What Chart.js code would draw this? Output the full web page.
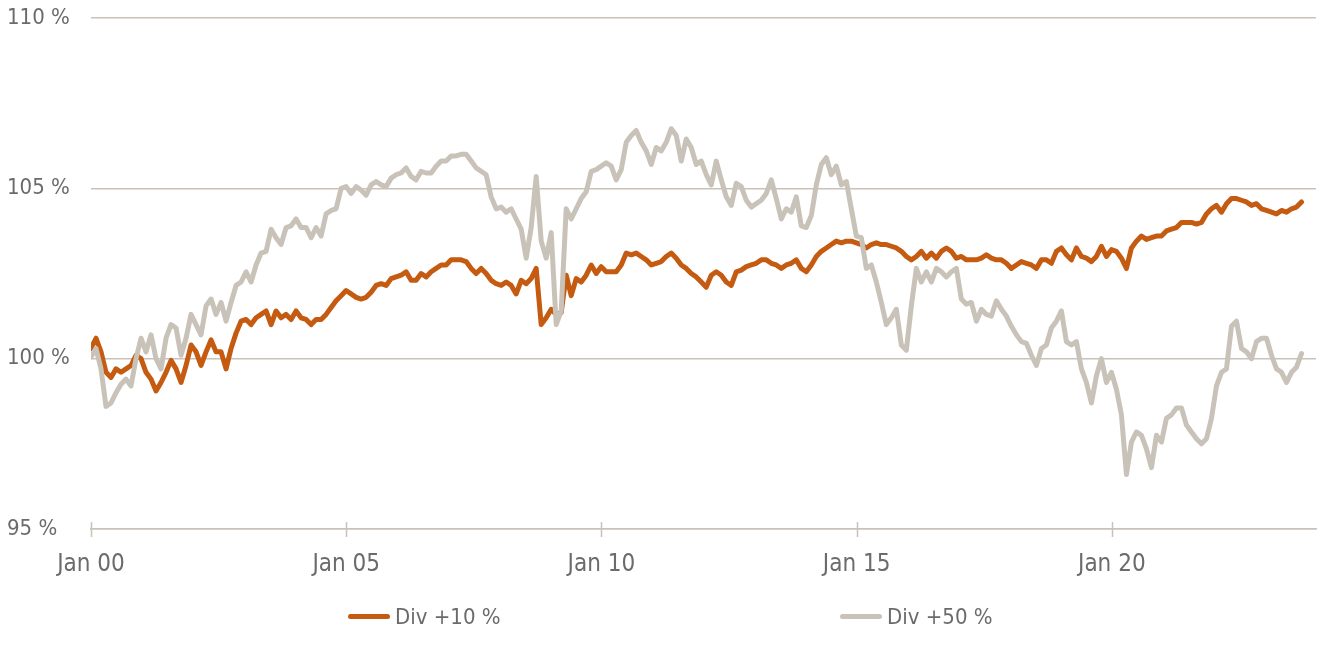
<!DOCTYPE html>
<html>
<head>
<meta charset="utf-8">
<script src="https://cdn.jsdelivr.net/npm/chart.js@4.4.1/dist/chart.umd.min.js"></script>
<style>
  html, body { margin: 0; padding: 0; background: #ffffff; }
  #wrap { position: relative; width: 1335px; height: 646px; overflow: hidden; }
  #c { position: absolute; left: 0; top: 0; }
  .leg { position: absolute; top: 602px; height: 28px; display: flex; align-items: center;
         font-family: "Liberation Sans Narrow", "DejaVu Sans Condensed", "Arial Narrow", sans-serif;
         font-size: 22px; color: #6b6b6b; white-space: nowrap; }
  .leg .sw { display: inline-block; width: 42px; height: 5px; border-radius: 3px; margin-right: 5px; }
</style>
</head>
<body>
<div id="wrap">
  <canvas id="c" width="1335" height="646"></canvas>
  <div id="legend"></div>
</div>
<script>
// ---- data ----
// one sample every ~0.098 year (≈ 1.2 months) starting Jan 2000
const sampleStepYears = 0.098;

const seriesNames = ['Div +10 %', 'Div +50 %'];
const seriesColors = ['#C55A11', '#C9C2B9'];

const div10 = [
  100.3, 100.6, 100.2, 99.6, 99.45, 99.7, 99.6, 99.7, 99.8, 100.1,
  100.0, 99.6, 99.4, 99.05, 99.3, 99.6, 99.95, 99.7, 99.3, 99.8,
  100.4, 100.2, 99.8, 100.2, 100.55, 100.2, 100.2, 99.7, 100.3, 100.75,
  101.1, 101.15, 101.0, 101.2, 101.3, 101.4, 101.0, 101.4, 101.2, 101.3,
  101.15, 101.4, 101.2, 101.15, 101.0, 101.15, 101.15, 101.3, 101.5, 101.7,
  101.85, 102.0, 101.9, 101.8, 101.75, 101.8, 101.95, 102.15, 102.2, 102.15,
  102.35, 102.4, 102.45, 102.55, 102.3, 102.3, 102.5, 102.4, 102.55, 102.65,
  102.75, 102.75, 102.9, 102.9, 102.9, 102.85, 102.65, 102.5, 102.65, 102.5,
  102.3, 102.2, 102.15, 102.25, 102.15, 101.9, 102.3, 102.2, 102.35, 102.65,
  101.0, 101.2, 101.45, 101.3, 101.35, 102.45, 101.85, 102.35, 102.25, 102.45,
  102.75, 102.5, 102.7, 102.55, 102.55, 102.55, 102.75, 103.1, 103.05, 103.1,
  103.0, 102.9, 102.75, 102.8, 102.85, 103.0, 103.1, 102.95, 102.75, 102.65,
  102.5, 102.4, 102.25, 102.1, 102.45, 102.55, 102.45, 102.25, 102.15, 102.55,
  102.6, 102.7, 102.75, 102.8, 102.9, 102.9, 102.8, 102.75, 102.65, 102.75,
  102.8, 102.9, 102.65, 102.55, 102.75, 103.0, 103.15, 103.25, 103.35, 103.45,
  103.4, 103.45, 103.45, 103.4, 103.35, 103.25, 103.35, 103.4, 103.35, 103.35,
  103.3, 103.25, 103.15, 103.0, 102.9, 103.0, 103.15, 102.95, 103.1, 102.95,
  103.15, 103.25, 103.15, 102.95, 103.0, 102.9, 102.9, 102.9, 102.95, 103.05,
  102.95, 102.9, 102.9, 102.8, 102.65, 102.75, 102.85, 102.8, 102.75, 102.65,
  102.9, 102.9, 102.8, 103.15, 103.25, 103.05, 102.9, 103.25, 103.0, 102.95,
  102.85, 103.0, 103.3, 103.0, 103.2, 103.15, 102.95, 102.65, 103.25, 103.45,
  103.6, 103.5, 103.55, 103.6, 103.6, 103.75, 103.8, 103.85, 104.0, 104.0,
  104.0, 103.95, 104.0, 104.25, 104.4, 104.5, 104.3, 104.55, 104.7, 104.7,
  104.65, 104.6, 104.5, 104.55, 104.4, 104.35, 104.3, 104.25, 104.35, 104.3,
  104.4, 104.45, 104.6
];

const div50 = [
  100.05, 100.3, 99.7, 98.6, 98.7, 99.0, 99.25, 99.4, 99.2, 100.0,
  100.6, 100.2, 100.7, 100.0, 99.7, 100.6, 101.0, 100.9, 100.1, 100.6,
  101.3, 101.0, 100.7, 101.55, 101.75, 101.3, 101.65, 101.1, 101.65, 102.15,
  102.25, 102.55, 102.25, 102.75, 103.1, 103.15, 103.8, 103.55, 103.35, 103.85,
  103.9, 104.1, 103.85, 103.85, 103.55, 103.85, 103.6, 104.25, 104.35, 104.4,
  105.0, 105.05, 104.85, 105.05, 104.95, 104.8, 105.1, 105.2, 105.1, 105.05,
  105.3, 105.4, 105.45, 105.6, 105.35, 105.25, 105.5, 105.45, 105.45, 105.65,
  105.8, 105.8, 105.95, 105.95, 106.0, 106.0, 105.8, 105.6, 105.5, 105.4,
  104.75, 104.4, 104.45, 104.3, 104.4, 104.1, 103.8, 102.95, 103.85, 105.35,
  103.45, 102.95, 103.7, 101.0, 101.4, 104.4, 104.1, 104.4, 104.7, 104.9,
  105.5, 105.55, 105.65, 105.75, 105.65, 105.25, 105.55, 106.35, 106.55, 106.7,
  106.35, 106.1, 105.7, 106.2, 106.1, 106.35, 106.75, 106.55, 105.8, 106.45,
  106.2, 105.7, 105.8, 105.4, 105.1, 105.8, 105.25, 104.75, 104.5, 105.15,
  105.05, 104.65, 104.45, 104.55, 104.65, 104.85, 105.25, 104.7, 104.1, 104.4,
  104.3, 104.75, 103.9, 103.85, 104.2, 105.1, 105.7, 105.9, 105.4, 105.65,
  105.1, 105.2, 104.4, 103.6, 103.55, 102.65, 102.75, 102.25, 101.65, 101.0,
  101.2, 101.45, 100.4, 100.25, 101.55, 102.65, 102.25, 102.55, 102.25, 102.65,
  102.55, 102.4, 102.55, 102.65, 101.75, 101.6, 101.65, 101.1, 101.45, 101.3,
  101.25, 101.7, 101.45, 101.25, 100.95, 100.7, 100.5, 100.45, 100.1, 99.8,
  100.3, 100.4, 100.9, 101.1, 101.4, 100.5, 100.4, 100.5, 99.7, 99.3,
  98.7, 99.5, 100.0, 99.3, 99.6, 99.1, 98.35, 96.6, 97.55, 97.85,
  97.75, 97.35, 96.8, 97.75, 97.55, 98.25, 98.35, 98.55, 98.55, 98.05,
  97.85, 97.65, 97.5, 97.65, 98.25, 99.2, 99.6, 99.7, 100.95, 101.1,
  100.3, 100.2, 100.0, 100.5, 100.6, 100.6, 100.1, 99.7, 99.6, 99.3,
  99.6, 99.75, 100.15
];

const xTickYears = [0, 5, 10, 15, 20];
const xTickLabels = ['Jan 00', 'Jan 05', 'Jan 10', 'Jan 15', 'Jan 20'];
const yTickValues = [95, 100, 105, 110];
const yTickLabels = ['95 %', '100 %', '105 %', '110 %'];

// ---- chart ----
const FONT = '"Liberation Sans Narrow", "DejaVu Sans Condensed", "Arial Narrow", sans-serif';
const TEXT = '#6b6b6b';
const GRID = '#C9C2B9';

function toPoints(values) {
  return values.map((v, i) => ({ x: i * sampleStepYears, y: v }));
}

const crossTicks = {
  id: 'crossTicks',
  afterDraw(chart) {
    const xs = chart.scales.x;
    const ctx = chart.ctx;
    const yb = chart.chartArea.bottom;
    ctx.save();
    ctx.strokeStyle = GRID;
    ctx.lineWidth = 1.5;
    xTickYears.forEach(v => {
      const px = Math.round(xs.getPixelForValue(v)) + 0.5;
      ctx.beginPath();
      ctx.moveTo(px, yb - 7);
      ctx.lineTo(px, yb + 8);
      ctx.stroke();
    });
    ctx.restore();
  }
};

new Chart(document.getElementById('c'), {
  type: 'line',
  data: {
    datasets: [
      { label: seriesNames[0], data: toPoints(div10), borderColor: seriesColors[0],
        backgroundColor: seriesColors[0], borderWidth: 5, pointRadius: 0, tension: 0,
        borderJoinStyle: 'round', borderCapStyle: 'round', order: 1 },
      { label: seriesNames[1], data: toPoints(div50), borderColor: seriesColors[1],
        backgroundColor: seriesColors[1], borderWidth: 5, pointRadius: 0, tension: 0,
        borderJoinStyle: 'round', borderCapStyle: 'round', order: 0 }
    ]
  },
  options: {
    responsive: false,
    animation: false,
    devicePixelRatio: 1,
    layout: { padding: { left: 7, right: 19, top: 18, bottom: 0 } },
    plugins: { legend: { display: false }, tooltip: { enabled: false } },
    scales: {
      x: {
        type: 'linear', min: 0, max: 24,
        afterBuildTicks: s => { s.ticks = xTickYears.map(v => ({ value: v })); },
        afterFit: s => { s.height = 117; },
        grid: { display: false },
        border: { display: true, color: GRID, width: 1.5 },
        ticks: {
          padding: 13, maxRotation: 0, autoSkip: false, color: TEXT,
          font: { family: FONT, size: 24 },
          callback: v => xTickLabels[xTickYears.indexOf(v)]
        }
      },
      y: {
        min: 95, max: 110,
        afterBuildTicks: s => { s.ticks = yTickValues.map(v => ({ value: v })); },
        afterFit: s => { s.width = 84; },
        grid: { color: GRID, lineWidth: 1.5, drawTicks: false },
        border: { display: false },
        ticks: {
          crossAlign: 'far', padding: 0, color: TEXT,
          font: { family: FONT, size: 22 },
          callback: v => yTickLabels[yTickValues.indexOf(v)]
        }
      }
    }
  },
  plugins: [crossTicks]
});

// ---- legend (HTML, built from the series names/colours) ----
const legendLeft = [348, 840];
const legend = document.getElementById('legend');
seriesNames.forEach((name, i) => {
  const item = document.createElement('div');
  item.className = 'leg';
  item.style.left = legendLeft[i] + 'px';
  const sw = document.createElement('span');
  sw.className = 'sw';
  sw.style.background = seriesColors[i];
  const tx = document.createElement('span');
  tx.textContent = name;
  item.appendChild(sw);
  item.appendChild(tx);
  legend.appendChild(item);
});
</script>
</body>
</html>
